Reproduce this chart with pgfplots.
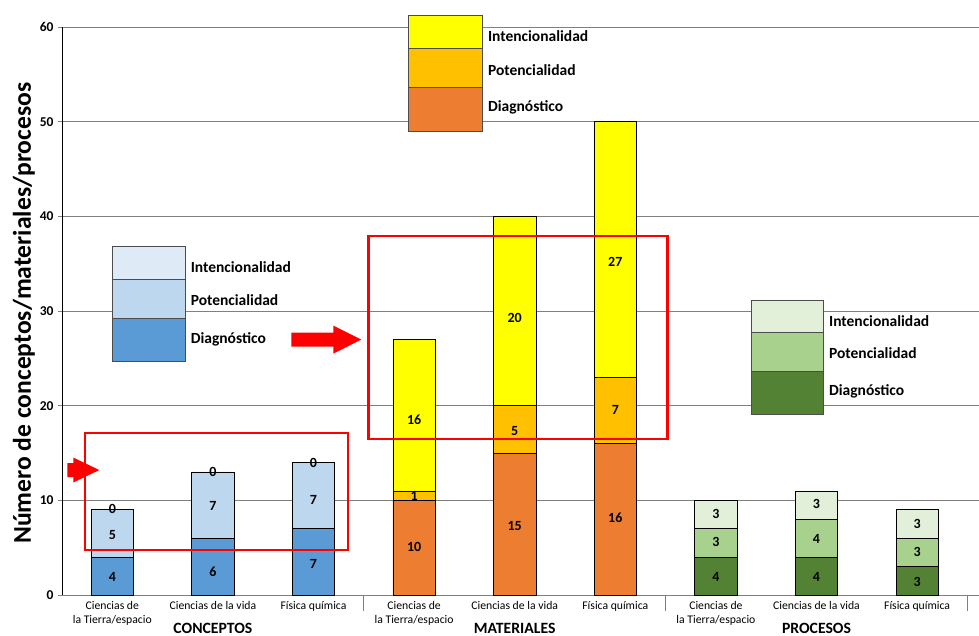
\documentclass[border=0pt]{standalone}
\usepackage{pgfplots}
\pgfplotsset{compat=1.18}
\usepackage{fontspec}
\setmainfont{Carlito}
\definecolor{cA}{HTML}{5B9BD5}
\definecolor{cB}{HTML}{BDD7EE}
\definecolor{cC}{HTML}{DEEBF7}
\definecolor{mA}{HTML}{ED7D31}
\definecolor{mB}{HTML}{FFC000}
\definecolor{mC}{HTML}{FFFF00}
\definecolor{pA}{HTML}{548235}
\definecolor{pB}{HTML}{A9D18E}
\definecolor{pC}{HTML}{E2F0D9}
\definecolor{gridc}{HTML}{808080}
\pgfplotsset{common/.style={scale only axis, width=917pt, height=568pt,
  xmin=-0.5, xmax=8.615, ymin=0, ymax=60, clip=false},
  bars/.style={common, hide axis, ybar stacked, bar width=0.42,
  every axis plot/.append style={draw=black, line width=0.7pt}}}
\newcommand{\lab}{\fontsize{14}{15}\selectfont\bfseries}
\newcommand{\leg}{\fontsize{15.5}{17}\selectfont\bfseries}
\newcommand{\grp}{\fontsize{15.7}{17}\selectfont\bfseries}
\begin{document}
\begin{tikzpicture}
\path[use as bounding box] (-62pt,-40pt) rectangle (917pt,595pt);
% background axis
\begin{axis}[common,
  axis x line*=bottom, axis y line*=left,
  x axis line style={draw=gridc, line width=0.9pt},
  y axis line style={draw=black, line width=0.8pt},
  ymajorgrids, grid style={draw=gridc, line width=0.9pt},
  ytick={0,10,...,60}, tick align=outside, major tick length=4pt,
  ytick style={draw=gridc, line width=0.8pt},
  yticklabel style={font=\fontsize{13.5}{15}\selectfont\bfseries, xshift=-1pt},
  /pgf/number format/assume math mode=true,
  xtick={0,...,8},
  xtick style={draw=none},
  xticklabels={{Ciencias de\\la Tierra/espacio},{Ciencias de la vida},{Física química},
               {Ciencias de\\la Tierra/espacio},{Ciencias de la vida},{Física química},
               {Ciencias de\\la Tierra/espacio},{Ciencias de la vida},{Física química}},
  xticklabel style={align=center, font=\fontsize{11.7}{14}\selectfont, yshift=1pt},
]
\node[rotate=90, font=\fontsize{25.6}{28}\selectfont\bfseries] at ([xshift=-38pt]rel axis cs:0,0.496) {Número de conceptos/materiales/procesos};
\node[font=\grp, anchor=base, inner sep=0pt] at ([yshift=-38pt]axis cs:1,0) {CONCEPTOS};
\node[font=\grp, anchor=base, inner sep=0pt] at ([yshift=-38pt]axis cs:4,0) {MATERIALES};
\node[font=\grp, anchor=base, inner sep=0pt] at ([yshift=-38pt]axis cs:7,0) {PROCESOS};
\draw[gridc, line width=0.9pt] (axis cs:2.5,0) -- ([yshift=-16pt]axis cs:2.5,0);
\draw[gridc, line width=0.9pt] (axis cs:5.5,0) -- ([yshift=-16pt]axis cs:5.5,0);
\draw[gridc, line width=0.9pt] (axis cs:8.5,0) -- ([yshift=-16pt]axis cs:8.5,0);
\end{axis}
% Conceptos bars
\begin{axis}[bars]
\addplot[fill=cA] coordinates {(0,4) (1,6) (2,7)};
\addplot[fill=cB] coordinates {(0,5) (1,7) (2,7)};
\addplot[fill=cC] coordinates {(0,0) (1,0) (2,0)};
\end{axis}
% Materiales bars
\begin{axis}[bars]
\addplot[fill=mA] coordinates {(3,10) (4,15) (5,16)};
\addplot[fill=mB] coordinates {(3,1) (4,5) (5,7)};
\addplot[fill=mC] coordinates {(3,16) (4,20) (5,27)};
\end{axis}
% Procesos bars
\begin{axis}[bars]
\addplot[fill=pA] coordinates {(6,4) (7,4) (8,3)};
\addplot[fill=pB] coordinates {(6,3) (7,4) (8,3)};
\addplot[fill=pC] coordinates {(6,3) (7,3) (8,3)};
\end{axis}
% overlay: labels, legends, red boxes
\begin{axis}[common, hide axis]
\addplot[only marks, mark=*, mark size=0pt, mark options={draw=none, fill=none},
  nodes near coords, point meta=explicit symbolic,
  nodes near coords style={anchor=center, font=\lab}]
  table[meta=lab] {
x y lab
0 1.95 4
0 6.35 5
0 9.05 0
1 2.5 6
1 9.4 7
1 13.05 0
2 3.3 7
2 10.0 7
2 14.0 0
3 5.05 10
3 10.45 1
3 18.5 16
4 7.3 15
4 17.35 5
4 29.25 20
5 8.2 16
5 19.5 7
5 35.2 27
6 1.95 4
6 5.6 3
6 8.55 3
7 1.95 4
7 5.9 4
7 9.6 3
8 1.4 3
8 4.5 3
8 7.55 3
};
% legend boxes
\filldraw[fill=cA, draw=black!70, line width=0.7pt] (axis cs:0,24.7) rectangle (axis cs:0.726,29.2);
\filldraw[fill=cB, draw=black!70, line width=0.7pt] (axis cs:0,29.2) rectangle (axis cs:0.726,33.3);
\filldraw[fill=cC, draw=black!70, line width=0.7pt] (axis cs:0,33.3) rectangle (axis cs:0.726,36.8);
\node[anchor=west, font=\leg] at (axis cs:0.745,34.6) {Intencionalidad};
\node[anchor=west, font=\leg] at (axis cs:0.745,31.2) {Potencialidad};
\node[anchor=west, font=\leg] at (axis cs:0.745,27.0) {Diagnóstico};
\filldraw[fill=mA, draw=black!70, line width=0.7pt] (axis cs:2.94,49.0) rectangle (axis cs:3.68,53.6);
\filldraw[fill=mB, draw=black!70, line width=0.7pt] (axis cs:2.94,53.6) rectangle (axis cs:3.68,57.7);
\filldraw[fill=mC, draw=black!70, line width=0.7pt] (axis cs:2.94,57.7) rectangle (axis cs:3.68,61.2);
\node[anchor=west, font=\leg] at (axis cs:3.70,59.0) {Intencionalidad};
\node[anchor=west, font=\leg] at (axis cs:3.70,55.4) {Potencialidad};
\node[anchor=west, font=\leg] at (axis cs:3.70,51.5) {Diagnóstico};
\filldraw[fill=pA, draw=black!70, line width=0.7pt] (axis cs:6.35,19.1) rectangle (axis cs:7.07,23.65);
\filldraw[fill=pB, draw=black!70, line width=0.7pt] (axis cs:6.35,23.65) rectangle (axis cs:7.07,27.7);
\filldraw[fill=pC, draw=black!70, line width=0.7pt] (axis cs:6.35,27.7) rectangle (axis cs:7.07,31.15);
\node[anchor=west, font=\leg] at (axis cs:7.09,28.9) {Intencionalidad};
\node[anchor=west, font=\leg] at (axis cs:7.09,25.55) {Potencialidad};
\node[anchor=west, font=\leg] at (axis cs:7.09,21.5) {Diagnóstico};
% red boxes
\draw[red, line width=2.4pt] (axis cs:-0.27,4.75) rectangle (axis cs:2.34,17.1);
\draw[red, line width=2.4pt] (axis cs:2.545,16.5) rectangle (axis cs:5.52,37.9);
% arrows
\fill[red] (axis cs:-0.447,12.46) -- (axis cs:-0.388,12.46) -- (axis cs:-0.388,11.88) -- (axis cs:-0.129,13.2) -- (axis cs:-0.388,14.52) -- (axis cs:-0.388,13.94) -- (axis cs:-0.447,13.94) -- cycle;
\fill[red] (axis cs:1.779,26.24) -- (axis cs:2.197,26.24) -- (axis cs:2.197,25.5) -- (axis cs:2.475,26.98) -- (axis cs:2.197,28.46) -- (axis cs:2.197,27.72) -- (axis cs:1.779,27.72) -- cycle;
\end{axis}
\end{tikzpicture}
\end{document}
